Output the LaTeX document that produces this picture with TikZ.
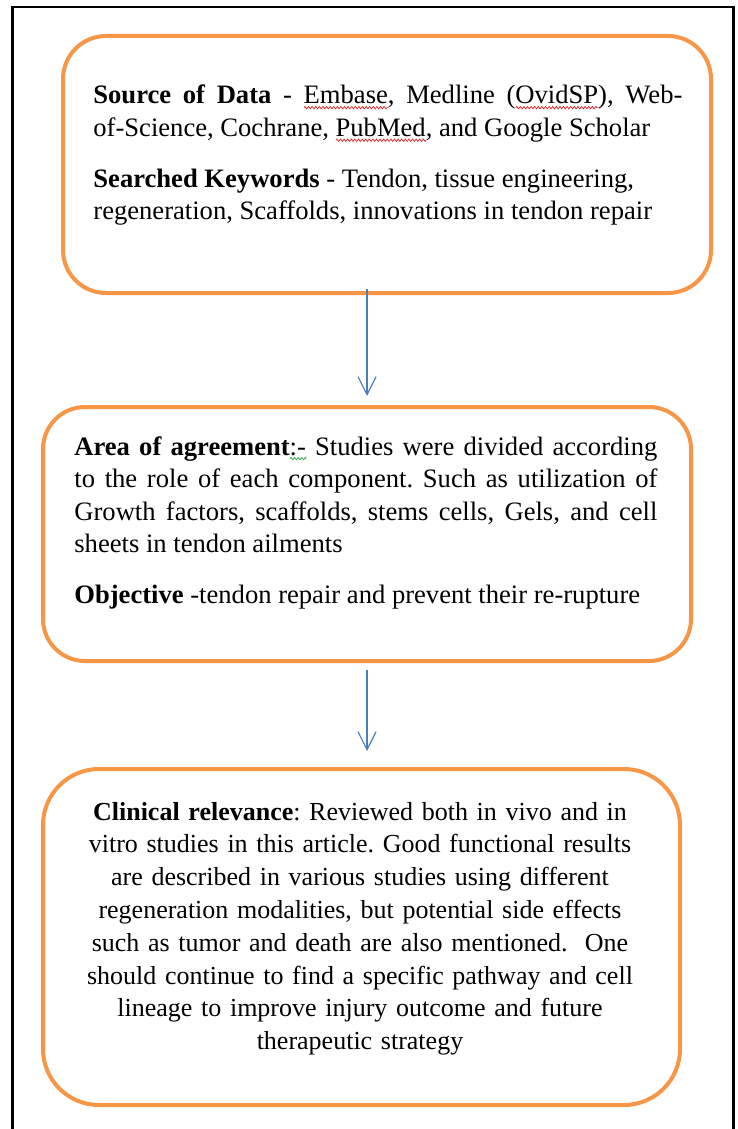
\documentclass[tikz,border=0pt]{standalone}
\usepackage{fontspec}
\setmainfont{Liberation Serif}
\usetikzlibrary{arrows.meta, decorations.pathmorphing}

\definecolor{boxorange}{HTML}{F79646}
\definecolor{arrowblue}{HTML}{4A7EBB}
\definecolor{spellred}{HTML}{E02020}
\definecolor{spellgreen}{HTML}{2EA043}

% 拼写检查波浪线
\newlength\wavelen
\newcommand\wavy[2]{\setbox0\hbox{#2}\setlength\wavelen{\wd0}%
    \rlap{\smash{\raisebox{-2.6pt}{\tikz[x=1pt,y=1pt]\draw[#1, line width=0.35pt,
        decorate, decoration={zigzag, amplitude=0.6pt, segment length=1.8pt}]
        (0,0) -- (\wavelen,0);}}}#2}
\newcommand\redwave[1]{\wavy{spellred}{#1}}
\newcommand\greenwave[1]{\wavy{spellgreen}{#1}}
\newcommand\gapline{\par\vspace{9pt}}
\frenchspacing

\begin{document}
\begin{tikzpicture}[x=0.5pt, y=-0.5pt,
    box/.style={draw=boxorange, line width=2pt, rectangle, inner sep=0pt},
    txt/.style={inner sep=0pt, font=\fontsize{13.3}{16.3}\selectfont},
    flow/.style={draw=arrowblue, line width=0.6pt, -{Straight Barb[length=9pt, width=9pt]}}]
    \useasboundingbox (0,0) rectangle (738,1129);

    % 外框
    \draw[line width=1.1pt] (12.5,1129) -- (12.5,7) -- (733.5,7) -- (733.5,1129);

    % 三个圆角框
    \node[box, minimum width=324pt, minimum height=128.5pt, rounded corners=21.5pt] (b1) at (387,164.5) {};
    \node[box, minimum width=324pt, minimum height=127pt, rounded corners=21pt] (b2) at (367,534) {};
    \node[box, minimum width=318.5pt, minimum height=168pt, rounded corners=28pt] (b3) at (361.5,937) {};

    % 框内文字
    \node[txt, anchor=base west, text width=294.5pt, align=justify] (src) at (93,104) {%
        \textbf{Source of Data} - \redwave{Embase}, Medline (\redwave{OvidSP}), Web-\linebreak
        of-Science, Cochrane, \redwave{PubMed}, and Google Scholar\gapline
        \textbf{Searched Keywords} - Tendon, tissue engineering,\newline
        regeneration, Scaffolds, innovations in tendon repair};
    \node[txt, anchor=base west, text width=291.5pt, align=justify] (agree) at (74,455) {%
        \textbf{Area of agreement}\greenwave{:-} Studies were divided according\linebreak
        to the role of each component. Such as utilization of\linebreak
        Growth factors, scaffolds, stems cells, Gels, and cell\linebreak
        sheets in tendon ailments\gapline
        \textbf{Objective} -tendon repair and prevent their re-rupture};
    \node[txt, anchor=base, text width=280pt, align=center,
        font=\fontsize{13}{16.4}\selectfont] (clin) at (360,820) {%
        \textbf{Clinical relevance}: Reviewed both in vivo and in\\
        vitro studies in this article. Good functional results\\
        are described in various studies using different\\
        regeneration modalities, but potential side effects\\
        such as tumor and death are also mentioned.\ \ One\\
        should continue to find a specific pathway and cell\\
        lineage to improve injury outcome and future\\
        therapeutic strategy};

    % 箭头
    \draw[flow] ([yshift=3pt]b2.north |- b1.south) -- ([yshift=4.5pt]b2.north);
    \draw[flow] ([yshift=-3.5pt]b2.south) -- ([yshift=8pt]b2.south |- b3.north);
\end{tikzpicture}
\end{document}
